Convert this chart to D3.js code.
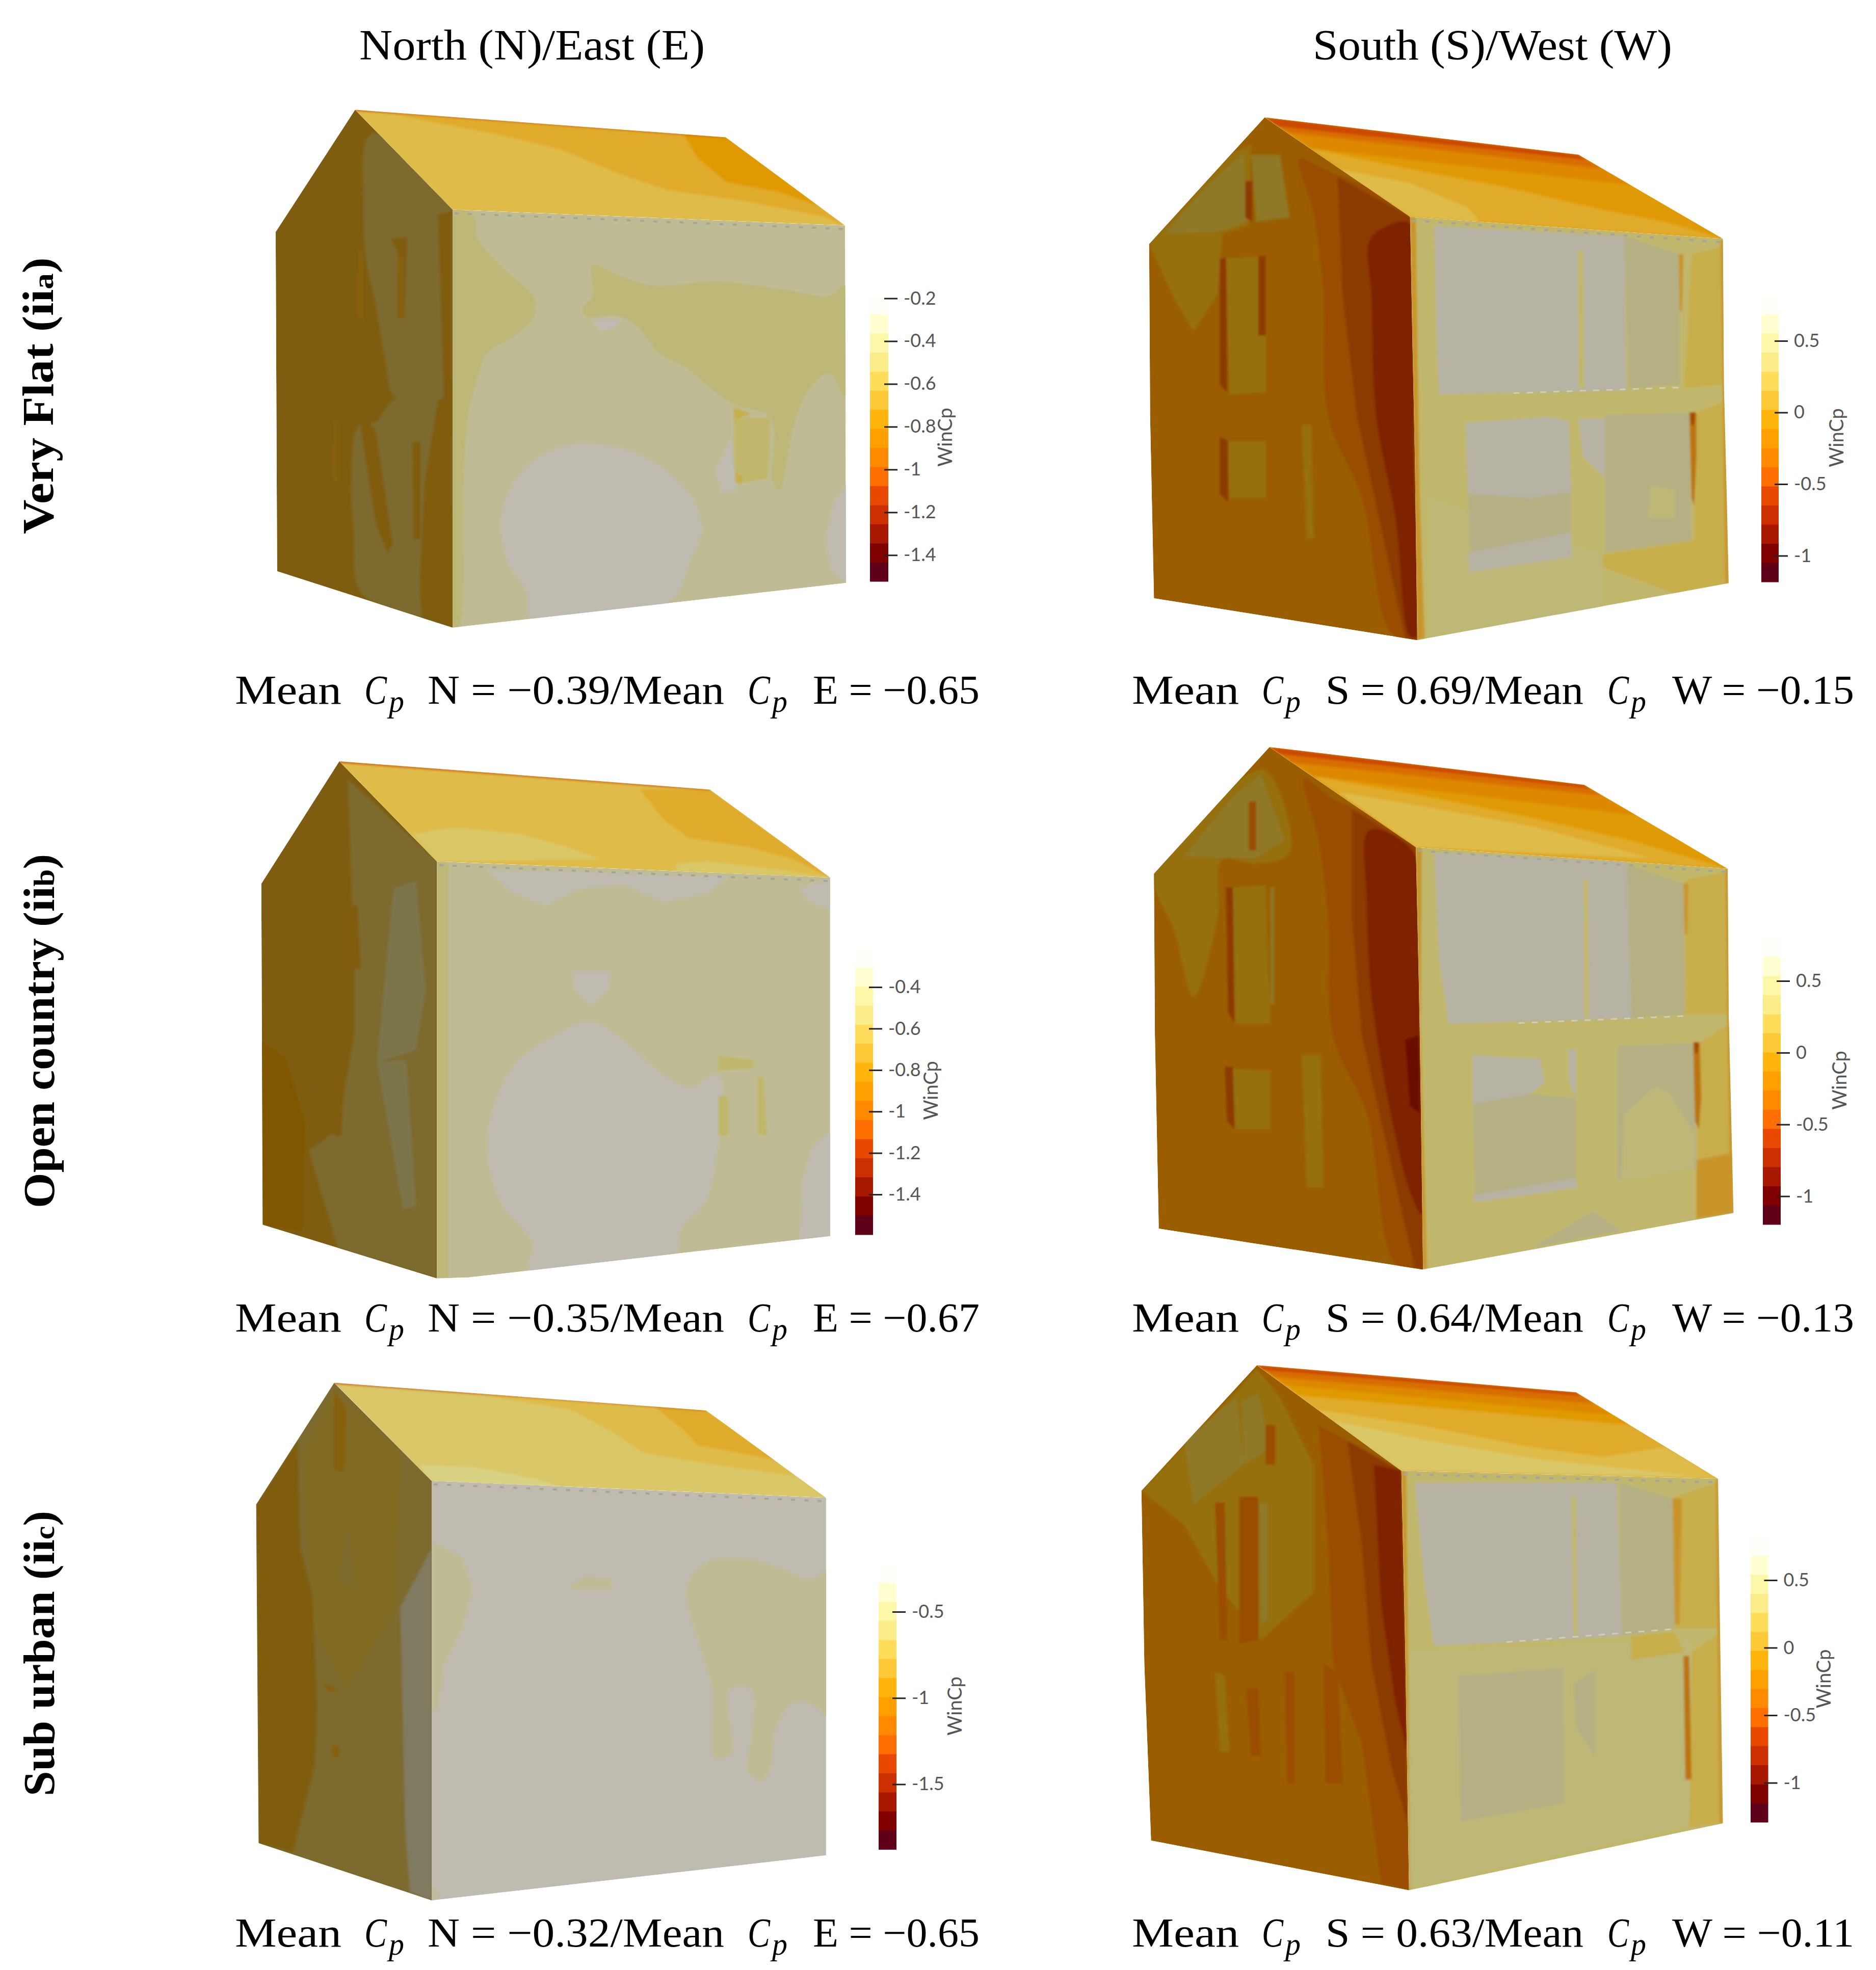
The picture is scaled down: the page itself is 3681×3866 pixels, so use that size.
<!DOCTYPE html>
<html>
<head>
<meta charset="utf-8">
<style>
  html, body { margin: 0; background: #fff; }
  svg text { fill: #000; }
</style>
<script src="https://cdn.jsdelivr.net/npm/d3@7"></script>
</head>
<body>
<div id="chart"></div>
<script>
// column titles, row labels, mean Cp captions
const columnTitles = ["North (N)/East (E)", "South (S)/West (W)"];
const rowLabels = [["Very Flat (ii", "a", ")"], ["Open country (ii", "b", ")"], ["Sub urban (ii", "c", ")"]];
const captionsNE = [["N = −0.39/Mean", "E = −0.65"], ["N = −0.35/Mean", "E = −0.67"], ["N = −0.32/Mean", "E = −0.65"]];
const captionsSW = [["S = 0.69/Mean", "W = −0.15"], ["S = 0.64/Mean", "W = −0.13"], ["S = 0.63/Mean", "W = −0.11"]];

// colour bar bands, lightest to darkest
const bandColors = ["#fffffa", "#ffffd2", "#fdf8a8", "#fbee8a", "#ffdd5a", "#ffc836", "#ffb50c", "#ffa000",
  "#ff8a00", "#ff6e00", "#e84800", "#cc3000", "#a81800", "#800000", "#600018"];

// WinCp colour bar ticks per panel
const ticksA = [-0.2, -0.4, -0.6, -0.8, -1, -1.2, -1.4];
const ticksB = [0.5, 0, -0.5, -1];
const ticksC = [-0.4, -0.6, -0.8, -1, -1.2, -1.4];
const ticksD = [0.5, 0, -0.5, -1];
const ticksE = [-0.5, -1, -1.5];
const ticksF = [0.5, 0, -0.5, -1];

// colour bar value ranges [top, bottom] per panel
const rangeA = [-0.186, -1.523];
const rangeB = [0.818, -1.183];
const rangeC = [-0.212, -1.594];
const rangeD = [0.80, -1.197];
const rangeE = [-0.221, -1.878];
const rangeF = [0.822, -1.292];

// shaded tones of the contour levels on each face of the house
const frontTones = ["#bfbbb1", "#b6b2a4", "#bfbc95", "#b5b084", "#bdb778", "#c1b76c", "#c8ae4c", "#c9952a", "#bb7410", "#a04a05"];
const gableTones = ["#7c7448", "#7d6a2e", "#8f7828", "#7f5d10", "#96700c", "#9a5e00", "#9a4e00", "#8c3a00", "#7f2000", "#6a0e00", "#87600e", "#806a22", "#807a60", "#805600"];
const roofTones = ["#d9d283", "#d9c768", "#dfbc4a", "#e0aa2a", "#e09a05", "#dd8800", "#d86e00", "#cc4a00"];

// house outlines, in each panel's own 0..1568 units
const facesA = {
  gable: [[95,383],[258,82],[458,328],[458,1357],[98,1218]],
  front: [[458,328],[1263,367],[1265,1247],[458,1357]],
  roof: [[258,82],[1018,150],[1263,367],[458,328]]
};
const facesB = {
  gable: [[58,375],[298,63],[600,308],[605,620],[610,900],[615,1350],[68,1247],[60,800]],
  front: [[600,308],[1250,362],[1252,720],[1258,1000],[1262,1210],[615,1350],[610,900],[605,620]],
  roof: [[298,63],[950,155],[1250,362],[600,308]]
};
const facesC = {
  gable: [[402,548],[522,258],[672,495],[672,1482],[404,1355]],
  front: [[672,495],[1277,533],[1277,1382],[720,1480],[672,1482]],
  roof: [[522,258],[1092,325],[1277,533],[672,495]]
};
const facesD = {
  gable: [[68,385],[308,60],[612,317],[620,770],[627,1400],[78,1295],[70,800]],
  front: [[612,317],[1260,372],[1262,745],[1272,1255],[627,1400],[620,770]],
  roof: [[308,60],[962,157],[1260,372],[612,317]]
};
const facesE = {
  gable: [[55,390],[215,82],[415,330],[415,1392],[60,1247]],
  front: [[415,330],[1224,373],[1224,1278],[415,1392]],
  roof: [[215,82],[978,152],[1224,373],[415,330]]
};
const facesF = {
  gable: [[42,365],[282,50],[582,315],[590,760],[598,1368],[62,1243],[48,800]],
  front: [[582,315],[1240,335],[1244,710],[1250,1200],[598,1368],[590,760]],
  roof: [[282,50],[945,118],[1240,335],[582,315]]
};

// base tone of each face
const basesA = { gable: 3, front: 2, roof: 2 };
const basesB = { gable: 5, front: 5, roof: 4 };
const basesC = { gable: 3, front: 2, roof: 2 };
const basesD = { gable: 5, front: 5, roof: 4 };
const basesE = { gable: 1, front: 0, roof: 1 };
const basesF = { gable: 5, front: 5, roof: 3 };

// contour regions: [face, tone, outline]
const regionsA = [
  ["roof", 3, [[330,92],[560,145],[680,180],[800,240],[900,280],[1050,305],[1220,345],[1263,367],[1018,150]]],
  ["roof", 4, [[930,140],[960,200],[1020,260],[1130,285],[1210,320],[1030,150]]],
  ["roof", 7, [[258,80],[1018,148],[1018,151],[258,84]]],
  ["front", 4, [[458,328],[500,340],[510,400],[560,470],[625,545],[625,590],[585,640],[530,680],[505,760],[490,830],[480,1000],[470,1357],[458,1357]]],
  ["front", 4, [[745,465],[800,490],[870,515],[1000,505],[1140,525],[1230,540],[1263,515],[1263,790],[1230,730],[1190,770],[1160,850],[1140,970],[1130,1020],[1115,1000],[1110,840],[1040,810],[1000,780],[940,720],[880,680],[840,620],[800,590],[730,590],[725,570],[745,540]]],
  ["front", 5, [[1035,840],[1110,840],[1105,990],[1050,1000],[1035,1000]]],
  ["front", 6, [[1035,815],[1070,830],[1035,845]]],
  ["front", 6, [[1035,975],[1055,985],[1050,1002],[1035,1000]]],
  ["front", 0, [[745,597],[805,597],[790,620],[760,625]]],
  ["front", 0, [[740,905],[830,925],[900,975],[950,1040],[968,1120],[945,1190],[905,1290],[620,1335],[610,1270],[570,1190],[558,1090],[580,1010],[630,940],[690,910]]],
  ["front", 0, [[1030,885],[1040,1020],[1010,1025],[998,970]]],
  ["front", 0, [[1268,1000],[1268,1250],[1235,1215],[1222,1140],[1240,1050]]],
  ["gable", 1, [[280,160],[300,140],[458,328],[440,790],[340,790],[320,700],[300,560],[280,450],[275,300]]],
  ["gable", 1, [[250,1000],[265,860],[300,850],[340,795],[440,795],[420,1357],[395,1335],[270,1270],[255,1120]]],
  ["gable", 3, [[428,795],[458,795],[458,1357],[395,1335],[390,1260],[400,1000]]],
  ["gable", 3, [[428,340],[458,330],[458,790],[440,790]]],
  ["gable", 3, [[330,400],[365,395],[360,595],[345,595],[345,430]]],
  ["gable", 10, [[265,430],[275,430],[275,600],[262,590]]],
  ["gable", 10, [[345,445],[358,445],[360,595],[348,595]]],
  ["gable", 10, [[215,850],[222,850],[222,1000],[212,990]]],
  ["gable", 3, [[265,830],[300,870],[335,1150],[325,1175],[300,1100]]],
  ["gable", 3, [[375,900],[392,900],[392,1140],[378,1140]]]
];
const regionsB = [
  ["roof", 3, [[395,140],[600,190],[800,235],[1000,290],[1130,320],[1250,362],[600,308]]],
  ["roof", 2, [[450,190],[600,225],[720,285],[745,322],[600,308]]],
  ["roof", 5, [[298,63],[950,155],[1060,230],[395,140]]],
  ["roof", 6, [[298,63],[950,155],[1000,190],[345,100]]],
  ["roof", 7, [[298,63],[950,155],[965,168],[325,85]]],
  ["gable", 4, [[58,375],[230,150],[270,130],[265,330],[210,350],[200,500],[150,590],[110,510]]],
  ["gable", 2, [[90,350],[180,230],[255,150],[262,320],[200,345]]],
  ["gable", 6, [[370,165],[420,190],[600,308],[605,620],[615,1350],[560,1330],[500,1000],[430,800],[420,500],[400,300]]],
  ["gable", 7, [[450,210],[600,308],[610,900],[615,1350],[590,1345],[545,1100],[490,800],[460,500]]],
  ["gable", 8, [[515,370],[545,335],[600,325],[608,900],[615,1340],[600,1340],[570,1050],[530,800],[520,500]]],
  ["gable", 2, [[270,155],[330,155],[350,310],[280,320]]],
  ["gable", 7, [[258,220],[272,220],[272,320],[258,310]]],
  ["gable", 4, [[218,410],[300,405],[300,740],[225,745]]],
  ["gable", 7, [[205,410],[218,410],[220,740],[205,720]]],
  ["gable", 7, [[285,405],[300,405],[300,600],[285,600]]],
  ["gable", 4, [[220,860],[300,860],[300,1000],[225,1000]]],
  ["gable", 7, [[205,850],[222,860],[222,1010],[205,990]]],
  ["gable", 4, [[375,820],[395,820],[400,1100],[385,1100]]],
  ["front", 4, [[640,1000],[1000,1140],[1000,1270],[640,1340]]],
  ["front", 1, [[650,330],[950,350],[1045,355],[1050,735],[815,740],[660,745],[655,600]]],
  ["front", 3, [[1045,355],[1160,400],[1160,720],[1055,730]]],
  ["front", 5, [[948,390],[960,390],[962,730],[950,730]]],
  ["front", 1, [[715,815],[890,800],[930,810],[935,985],[850,1000],[720,990]]],
  ["front", 3, [[720,990],[850,1000],[935,985],[935,1085],[725,1135]]],
  ["front", 1, [[720,1135],[935,1085],[935,1145],[725,1182]]],
  ["front", 1, [[950,805],[1005,805],[1005,950],[960,900]]],
  ["front", 3, [[1005,795],[1180,790],[1185,1105],[1005,1135]]],
  ["front", 4, [[1100,970],[1150,980],[1150,1050],[1095,1050]]],
  ["front", 6, [[1185,400],[1250,380],[1255,720],[1170,730]]],
  ["front", 6, [[1195,790],[1258,760],[1262,1210],[1190,1200]]],
  ["front", 6, [[1000,1140],[1190,1105],[1262,1130],[1262,1210],[1150,1235],[1000,1170]]],
  ["front", 8, [[1180,790],[1195,790],[1195,900],[1190,1020],[1185,1000]]],
  ["front", 9, [[1182,790],[1192,790],[1190,820],[1184,820]]],
  ["front", 7, [[1158,400],[1168,400],[1165,540],[1160,540]]],
  ["front", 7, [[600,308],[612,310],[615,620],[620,1000],[630,1345],[615,1350]]],
  ["front", 7, [[1245,365],[1252,365],[1262,1210],[1255,1210]]]
];
const regionsC = [
  ["roof", 3, [[985,325],[1020,395],[1060,440],[1150,460],[1220,490],[1277,533],[1092,325]]],
  ["roof", 1, [[635,430],[700,415],[800,430],[870,460],[925,490],[672,495]]],
  ["roof", 1, [[1040,500],[1090,495],[1200,515],[1277,533],[1040,520]]],
  ["roof", 7, [[522,257],[1092,324],[1092,327],[522,261]]],
  ["front", 0, [[910,875],[960,920],[1020,1000],[1060,1030],[1105,1000],[1105,1150],[1085,1300],[1045,1370],[1040,1420],[815,1465],[820,1400],[770,1300],[750,1150],[790,980],[850,910]]],
  ["front", 0, [[880,755],[940,755],[935,800],[910,835],[885,800]]],
  ["front", 0, [[750,515],[1120,530],[1090,570],[1020,590],[960,550],[890,560],[840,600],[790,570]]],
  ["front", 0, [[1230,560],[1277,535],[1277,610],[1245,590]]],
  ["front", 0, [[1280,1130],[1280,1385],[1230,1390],[1235,1250],[1250,1170]]],
  ["front", 4, [[672,495],[690,500],[690,1480],[672,1482]]],
  ["front", 5, [[1105,955],[1160,965],[1160,985],[1105,990]]],
  ["front", 5, [[1105,1050],[1120,1050],[1120,1145],[1105,1145]]],
  ["front", 5, [[1165,1005],[1175,1005],[1180,1145],[1165,1140]]],
  ["gable", 1, [[535,300],[672,495],[672,1482],[520,1410],[475,1180],[520,1130],[545,900],[545,760]]],
  ["gable", 0, [[605,560],[640,540],[655,800],[640,940],[625,950],[580,970]]],
  ["gable", 0, [[580,970],[625,965],[640,1310],[620,1320]]],
  ["gable", 13, [[402,920],[440,960],[470,1120],[465,1370],[404,1355]]],
  ["gable", 3, [[530,600],[550,600],[555,750],[528,750]]],
  ["gable", 3, [[490,980],[500,980],[495,1130],[488,1130]]],
  ["gable", 3, [[520,970],[530,1000],[525,1145],[515,1145]]]
];
const regionsD = [
  ["roof", 3, [[400,135],[650,190],[850,240],[1060,300],[1260,372],[612,317]]],
  ["roof", 2, [[450,175],[640,215],[860,265],[1100,345],[612,317]]],
  ["roof", 5, [[308,60],[962,157],[1070,235],[400,135]]],
  ["roof", 6, [[308,60],[962,157],[1000,185],[355,100]]],
  ["roof", 7, [[308,60],[962,157],[975,167],[330,78]]],
  ["gable", 4, [[68,385],[240,150],[300,120],[350,330],[280,360],[210,350],[200,500],[150,700],[110,530]]],
  ["gable", 2, [[130,340],[230,190],[290,130],[340,300],[280,345],[210,345]]],
  ["gable", 6, [[380,140],[430,185],[612,317],[620,770],[627,1400],[570,1385],[510,1000],[440,800],[430,500],[410,300]]],
  ["gable", 7, [[480,220],[612,317],[620,770],[627,1400],[610,1395],[555,1100],[500,800],[480,500]]],
  ["gable", 8, [[510,280],[530,270],[612,340],[620,770],[625,1260],[600,1200],[560,1000],[520,700],[510,450]]],
  ["gable", 9, [[590,810],[618,800],[620,1000],[600,980]]],
  ["gable", 4, [[230,420],[300,415],[310,770],[235,770]]],
  ["gable", 7, [[218,420],[232,420],[236,770],[222,740]]],
  ["gable", 2, [[310,420],[318,420],[318,720],[310,720]]],
  ["gable", 4, [[230,885],[310,890],[310,1040],[235,1040]]],
  ["gable", 7, [[215,880],[232,880],[236,1040],[220,1020]]],
  ["gable", 4, [[375,850],[415,850],[420,1190],[385,1190]]],
  ["gable", 6, [[265,200],[280,200],[280,325],[265,325]]],
  ["front", 1, [[650,330],[1050,355],[1060,755],[680,770],[660,600]]],
  ["front", 3, [[1050,360],[1168,410],[1172,745],[1060,755]]],
  ["front", 5, [[960,400],[970,400],[972,755],[962,755]]],
  ["front", 1, [[730,850],[870,860],[880,920],[850,950],[730,980]]],
  ["front", 3, [[730,975],[850,950],[945,960],[945,1165],[735,1210]]],
  ["front", 1, [[730,1210],[945,1165],[948,1190],[735,1228]]],
  ["front", 1, [[930,835],[945,835],[945,960],[930,920]]],
  ["front", 3, [[1030,825],[1190,820],[1195,1140],[1030,1170]]],
  ["front", 4, [[1045,1000],[1110,930],[1140,950],[1190,1050],[1190,1140],[1040,1170]]],
  ["front", 3, [[850,1345],[980,1250],[1040,1300]]],
  ["front", 6, [[1172,400],[1260,380],[1260,745],[1172,745]]],
  ["front", 6, [[1200,820],[1262,770],[1272,1255],[1195,1270]]],
  ["front", 7, [[1195,1120],[1272,1100],[1272,1255],[1195,1270]]],
  ["front", 8, [[1188,818],[1202,818],[1205,960],[1200,1040],[1192,1020]]],
  ["front", 9, [[1190,818],[1200,818],[1198,845],[1192,845]]],
  ["front", 7, [[1168,410],[1178,410],[1176,540],[1170,540]]],
  ["front", 7, [[612,317],[624,319],[622,770],[635,1397],[627,1400],[620,770]]],
  ["front", 7, [[1255,372],[1262,372],[1272,1255],[1265,1255]]]
];
const regionsE = [
  ["roof", 2, [[480,105],[700,150],[790,210],[850,260],[1000,290],[1170,320],[1224,373],[978,152]]],
  ["roof", 3, [[870,140],[930,200],[960,240],[1070,265],[1130,280],[978,152]]],
  ["roof", 0, [[390,290],[500,295],[630,325],[700,355],[415,330]]],
  ["roof", 7, [[215,80],[978,150],[978,153],[215,84]]],
  ["front", 2, [[425,490],[475,520],[500,600],[480,700],[440,800],[430,910],[415,910],[415,490]]],
  ["front", 2, [[940,590],[980,535],[1050,525],[1130,550],[1190,580],[1228,560],[1228,930],[1200,900],[1160,890],[1120,960],[1110,1060],[1090,1090],[1060,1060],[1065,1020],[1070,860],[1025,860],[1030,1020],[995,1030],[990,860],[960,730],[940,650]]],
  ["front", 2, [[700,595],[730,570],[785,580],[785,605],[700,605]]],
  ["front", 2, [[415,1350],[432,1385],[415,1392]]],
  ["gable", 11, [[150,270],[215,100],[350,260],[345,650],[240,860],[170,700]]],
  ["gable", 3, [[55,390],[140,230],[145,500],[170,620],[180,900],[175,1050],[130,1270],[60,1247]]],
  ["gable", 12, [[350,650],[415,500],[415,1392],[370,1370],[360,1200],[355,900]]],
  ["gable", 10, [[215,100],[240,150],[235,310],[215,300]]],
  ["gable", 1, [[225,580],[245,440],[255,600]]],
  ["gable", 10, [[210,1000],[225,1000],[225,1030],[212,1030]]],
  ["gable", 10, [[190,840],[225,860],[205,865]]]
];
const regionsF = [
  ["roof", 2, [[400,160],[620,200],[850,255],[1000,280],[1130,255],[1240,335],[582,315]]],
  ["roof", 1, [[440,190],[640,240],[860,285],[1200,330],[582,315]]],
  ["roof", 4, [[282,50],[945,118],[1060,200],[370,125]]],
  ["roof", 5, [[282,50],[945,118],[1020,175],[340,100]]],
  ["roof", 6, [[282,50],[945,118],[985,147],[320,80]]],
  ["roof", 7, [[282,50],[945,118],[955,127],[295,62]]],
  ["gable", 4, [[42,365],[282,60],[330,130],[400,300],[400,620],[290,740],[200,600],[130,450]]],
  ["gable", 2, [[130,240],[240,130],[255,300],[150,400]]],
  ["gable", 6, [[410,200],[582,315],[590,760],[598,1368],[540,1350],[500,1000],[440,800],[430,500]]],
  ["gable", 7, [[470,240],[582,315],[590,760],[595,1200],[560,1050],[520,800],[500,500]]],
  ["gable", 8, [[525,300],[582,315],[590,760],[594,1020],[570,900],[540,650]]],
  ["gable", 2, [[250,140],[285,120],[310,260],[255,300]]],
  ["gable", 6, [[300,200],[320,200],[320,300],[300,300]]],
  ["gable", 2, [[285,395],[305,395],[305,690],[290,700]]],
  ["gable", 6, [[245,380],[285,380],[285,740],[245,750]]],
  ["gable", 6, [[195,395],[215,395],[220,740],[205,740]]],
  ["gable", 4, [[195,820],[215,830],[225,1020],[205,1020]]],
  ["gable", 6, [[260,860],[285,860],[290,1030],[270,1030]]],
  ["gable", 6, [[340,820],[360,820],[360,1100],[345,1100]]],
  ["gable", 6, [[420,800],[450,820],[460,1100],[425,1100]]],
  ["front", 1, [[610,345],[1030,345],[1040,730],[650,755],[630,600]]],
  ["front", 3, [[1035,345],[1148,385],[1150,710],[1040,730]]],
  ["front", 5, [[935,380],[945,380],[948,730],[940,730]]],
  ["front", 4, [[600,770],[1180,740],[1240,1190],[600,1360]]],
  ["front", 3, [[700,830],[918,810],[920,1150],[705,1195]]],
  ["front", 3, [[940,850],[985,815],[985,1030],[945,960]]],
  ["front", 4, [[990,810],[1170,780],[1172,1095],[990,1130]]],
  ["front", 6, [[1060,730],[1148,720],[1170,770],[1060,790]]],
  ["front", 6, [[1150,380],[1240,345],[1244,710],[1150,710]]],
  ["front", 6, [[1185,770],[1244,720],[1250,1200],[1180,1210]]],
  ["front", 8, [[1168,780],[1180,780],[1185,1090],[1172,1090]]],
  ["front", 7, [[1145,385],[1165,385],[1160,700],[1150,700]]],
  ["front", 7, [[582,315],[592,317],[600,1368],[598,1368],[590,760]]],
  ["front", 7, [[1235,340],[1240,335],[1250,1200],[1243,1200]]]
];

// where each panel and its colour bar sit on the page
const panels = [
  { id: "A", faces: facesA, bases: basesA, regions: regionsA, ticks: ticksA, range: rangeA, frame: [450, 1500, 150, 1250], bar: [1707, 1743, 579.6, 1141], title: [1868, 858], midLine: false },
  { id: "B", faces: facesB, bases: basesB, regions: regionsB, ticks: ticksB, range: rangeB, frame: [2200, 1481, 180, 1250], bar: [3456, 3490, 579.5, 1142], title: [3617, 859], midLine: [[815,742],[1160,728]] },
  { id: "C", faces: facesC, bases: basesC, regions: regionsC, ticks: ticksC, range: rangeC, frame: [0, 2000, 1280, 1300], bar: [1678, 1713, 1860.6, 2423], title: [1840, 2140], midLine: false },
  { id: "D", faces: facesD, bases: basesD, regions: regionsD, ticks: ticksD, range: rangeD, frame: [2200, 1481, 1420, 1200], bar: [3459, 3494, 1840.5, 2403], title: [3623, 2120], midLine: [[825,768],[1170,750]] },
  { id: "E", faces: facesE, bases: basesE, regions: regionsE, ticks: ticksE, range: rangeE, frame: [450, 1500, 2650, 1216], bar: [1724, 1759, 3068.6, 3629.4], title: [1887, 3348], midLine: false },
  { id: "F", faces: facesF, bases: basesF, regions: regionsF, ticks: ticksF, range: rangeF, frame: [2200, 1481, 2640, 1226], bar: [3435, 3469.5, 3015.6, 3576], title: [3592, 3294.5], midLine: [[800,745],[1150,712]] }
];

const width = 3681;
const height = 3866;
const serif = "'Liberation Serif', serif";
const barFont = "Lato, 'Open Sans', sans-serif";

const svg = d3.select("#chart").append("svg")
  .attr("width", width)
  .attr("height", height)
  .attr("viewBox", `0 0 ${width} ${height}`)
  .style("display", "block");

// the source renders are soft, so contour edges get a slight blur
svg.append("filter").attr("id", "soft")
  .append("feGaussianBlur").attr("stdDeviation", 2);

const tones = { front: frontTones, gable: gableTones, roof: roofTones };

panels.forEach(p => {
  const x = d3.scaleLinear().domain([0, 1568]).range([p.frame[0], p.frame[0] + p.frame[1]]);
  const y = d3.scaleLinear().domain([0, 1568]).range([p.frame[2], p.frame[2] + p.frame[3]]);
  const outline = d3.line().x(d => x(d[0])).y(d => y(d[1])).curve(d3.curveLinearClosed);
  const blob = d3.line().x(d => x(d[0])).y(d => y(d[1])).curve(d3.curveCatmullRomClosed.alpha(0.5));

  const g = svg.append("g").attr("class", "panel-" + p.id);

  ["gable", "front", "roof"].forEach(face => {
    g.append("clipPath").attr("id", `clip-${p.id}-${face}`)
      .append("path").attr("d", outline(p.faces[face]));
    const faceG = g.append("g").attr("clip-path", `url(#clip-${p.id}-${face})`);
    faceG.append("path")
      .attr("d", outline(p.faces[face]))
      .attr("fill", tones[face][p.bases[face]]);
    faceG.append("g").attr("filter", "url(#soft)")
      .selectAll("path.region")
      .data(p.regions.filter(r => r[0] === face))
      .join("path")
      .attr("class", "region")
      // windows and short outlines stay angular, long contours get rounded
      .attr("d", r => (face === "roof" || r[2].length <= 8 ? outline(r[2]) : blob(r[2])))
      .attr("fill", r => tones[face][r[1]]);
  });

  // serrated line under the eave
  const eave = p.faces.front.slice(0, 2).map(d => [d[0] + 4, d[1] + 9]);
  g.append("path")
    .attr("d", d3.line().x(d => x(d[0])).y(d => y(d[1]))(eave))
    .attr("fill", "none")
    .attr("stroke", "#a5a598")
    .attr("stroke-width", 4)
    .attr("stroke-dasharray", "8 18");
  if (p.midLine) {
    g.append("path")
      .attr("d", d3.line().x(d => x(d[0])).y(d => y(d[1]))(p.midLine))
      .attr("fill", "none")
      .attr("stroke", "#cfcdbb")
      .attr("stroke-width", 3)
      .attr("stroke-dasharray", "12 14");
  }

  // colour bar
  const scale = d3.scaleLinear().domain(p.range).range([p.bar[2], p.bar[3]]);
  const step = (p.range[0] - p.range[1]) / bandColors.length;
  const bar = g.append("g").attr("class", "bar");
  bar.selectAll("rect")
    .data(bandColors)
    .join("rect")
    .attr("x", p.bar[0])
    .attr("width", p.bar[1] - p.bar[0])
    .attr("y", (d, i) => scale(p.range[0] - i * step))
    .attr("height", (d, i) => scale(p.range[0] - (i + 1) * step) - scale(p.range[0] - i * step) + 0.5)
    .attr("fill", d => d);

  const axis = d3.axisRight(scale)
    .tickValues(p.ticks)
    .tickSize(26)
    .tickPadding(12)
    .tickFormat(d => String(d));
  const axisG = bar.append("g")
    .attr("transform", `translate(${p.bar[1] - 8},0)`)
    .call(axis);
  axisG.select(".domain").remove();
  axisG.selectAll("line").attr("stroke", "#222").attr("stroke-width", 3);
  axisG.selectAll("text")
    .attr("font-family", barFont)
    .attr("font-size", 36)
    .style("fill", "#555");

  bar.append("text")
    .attr("transform", `translate(${p.title[0]},${p.title[1]}) rotate(-90)`)
    .attr("text-anchor", "middle")
    .attr("font-family", barFont)
    .attr("font-size", 38)
    .style("fill", "#555")
    .text("WinCp");
});

// column titles
const titleBoxes = [[705, 678], [2576, 705]];
svg.selectAll("text.column")
  .data(columnTitles)
  .join("text")
  .attr("class", "column")
  .attr("x", (d, i) => titleBoxes[i][0])
  .attr("y", 117)
  .attr("font-family", serif)
  .attr("font-size", 84)
  .attr("textLength", (d, i) => titleBoxes[i][1])
  .attr("lengthAdjust", "spacingAndGlyphs")
  .text(d => d);

// row labels, rotated
const rowBoxes = [[104, 1048, 543], [106, 2371, 695], [106, 3525, 560]];
rowLabels.forEach((label, i) => {
  const t = svg.append("text")
    .attr("transform", `translate(${rowBoxes[i][0]},${rowBoxes[i][1]}) rotate(-90)`)
    .attr("font-family", serif)
    .attr("font-weight", "bold")
    .attr("font-size", 86)
    .attr("textLength", rowBoxes[i][2])
    .attr("lengthAdjust", "spacingAndGlyphs");
  t.append("tspan").text(label[0]);
  t.append("tspan").attr("font-size", 58).text(label[1]);
  t.append("tspan").text(label[2]);
});

// mean Cp captions
const rowBaselines = [1381, 2613, 3820];
function drawCaption(texts, baseline, slots) {
  const c = svg.append("g").attr("font-family", serif).attr("font-size", 80);
  const piece = (s, slot, extra) => c.append("text")
    .attr("x", slot[0]).attr("y", baseline + (extra || 0))
    .attr("textLength", slot[1]).attr("lengthAdjust", "spacingAndGlyphs").text(s);
  piece("Mean", slots[0]);
  piece("C", slots[1]).attr("font-style", "italic");
  piece("p", slots[2], 16).attr("font-style", "italic").attr("font-size", 62);
  piece(texts[0], slots[3]);
  piece("C", slots[4]).attr("font-style", "italic");
  piece("p", slots[5], 16).attr("font-style", "italic").attr("font-size", 62);
  piece(texts[1], slots[6]);
}
const slotsNE = [[461, 209], [715, 44], [763, 30], [839, 582], [1467, 44], [1515, 30], [1595, 327]];
const slotsSW = [[2221, 210], [2476, 42], [2522, 30], [2601, 506], [3154, 42], [3200, 30], [3281, 357]];
rowBaselines.forEach((b, i) => {
  drawCaption(captionsNE[i], b, slotsNE);
  drawCaption(captionsSW[i], b, slotsSW);
});
</script>
</body>
</html>
